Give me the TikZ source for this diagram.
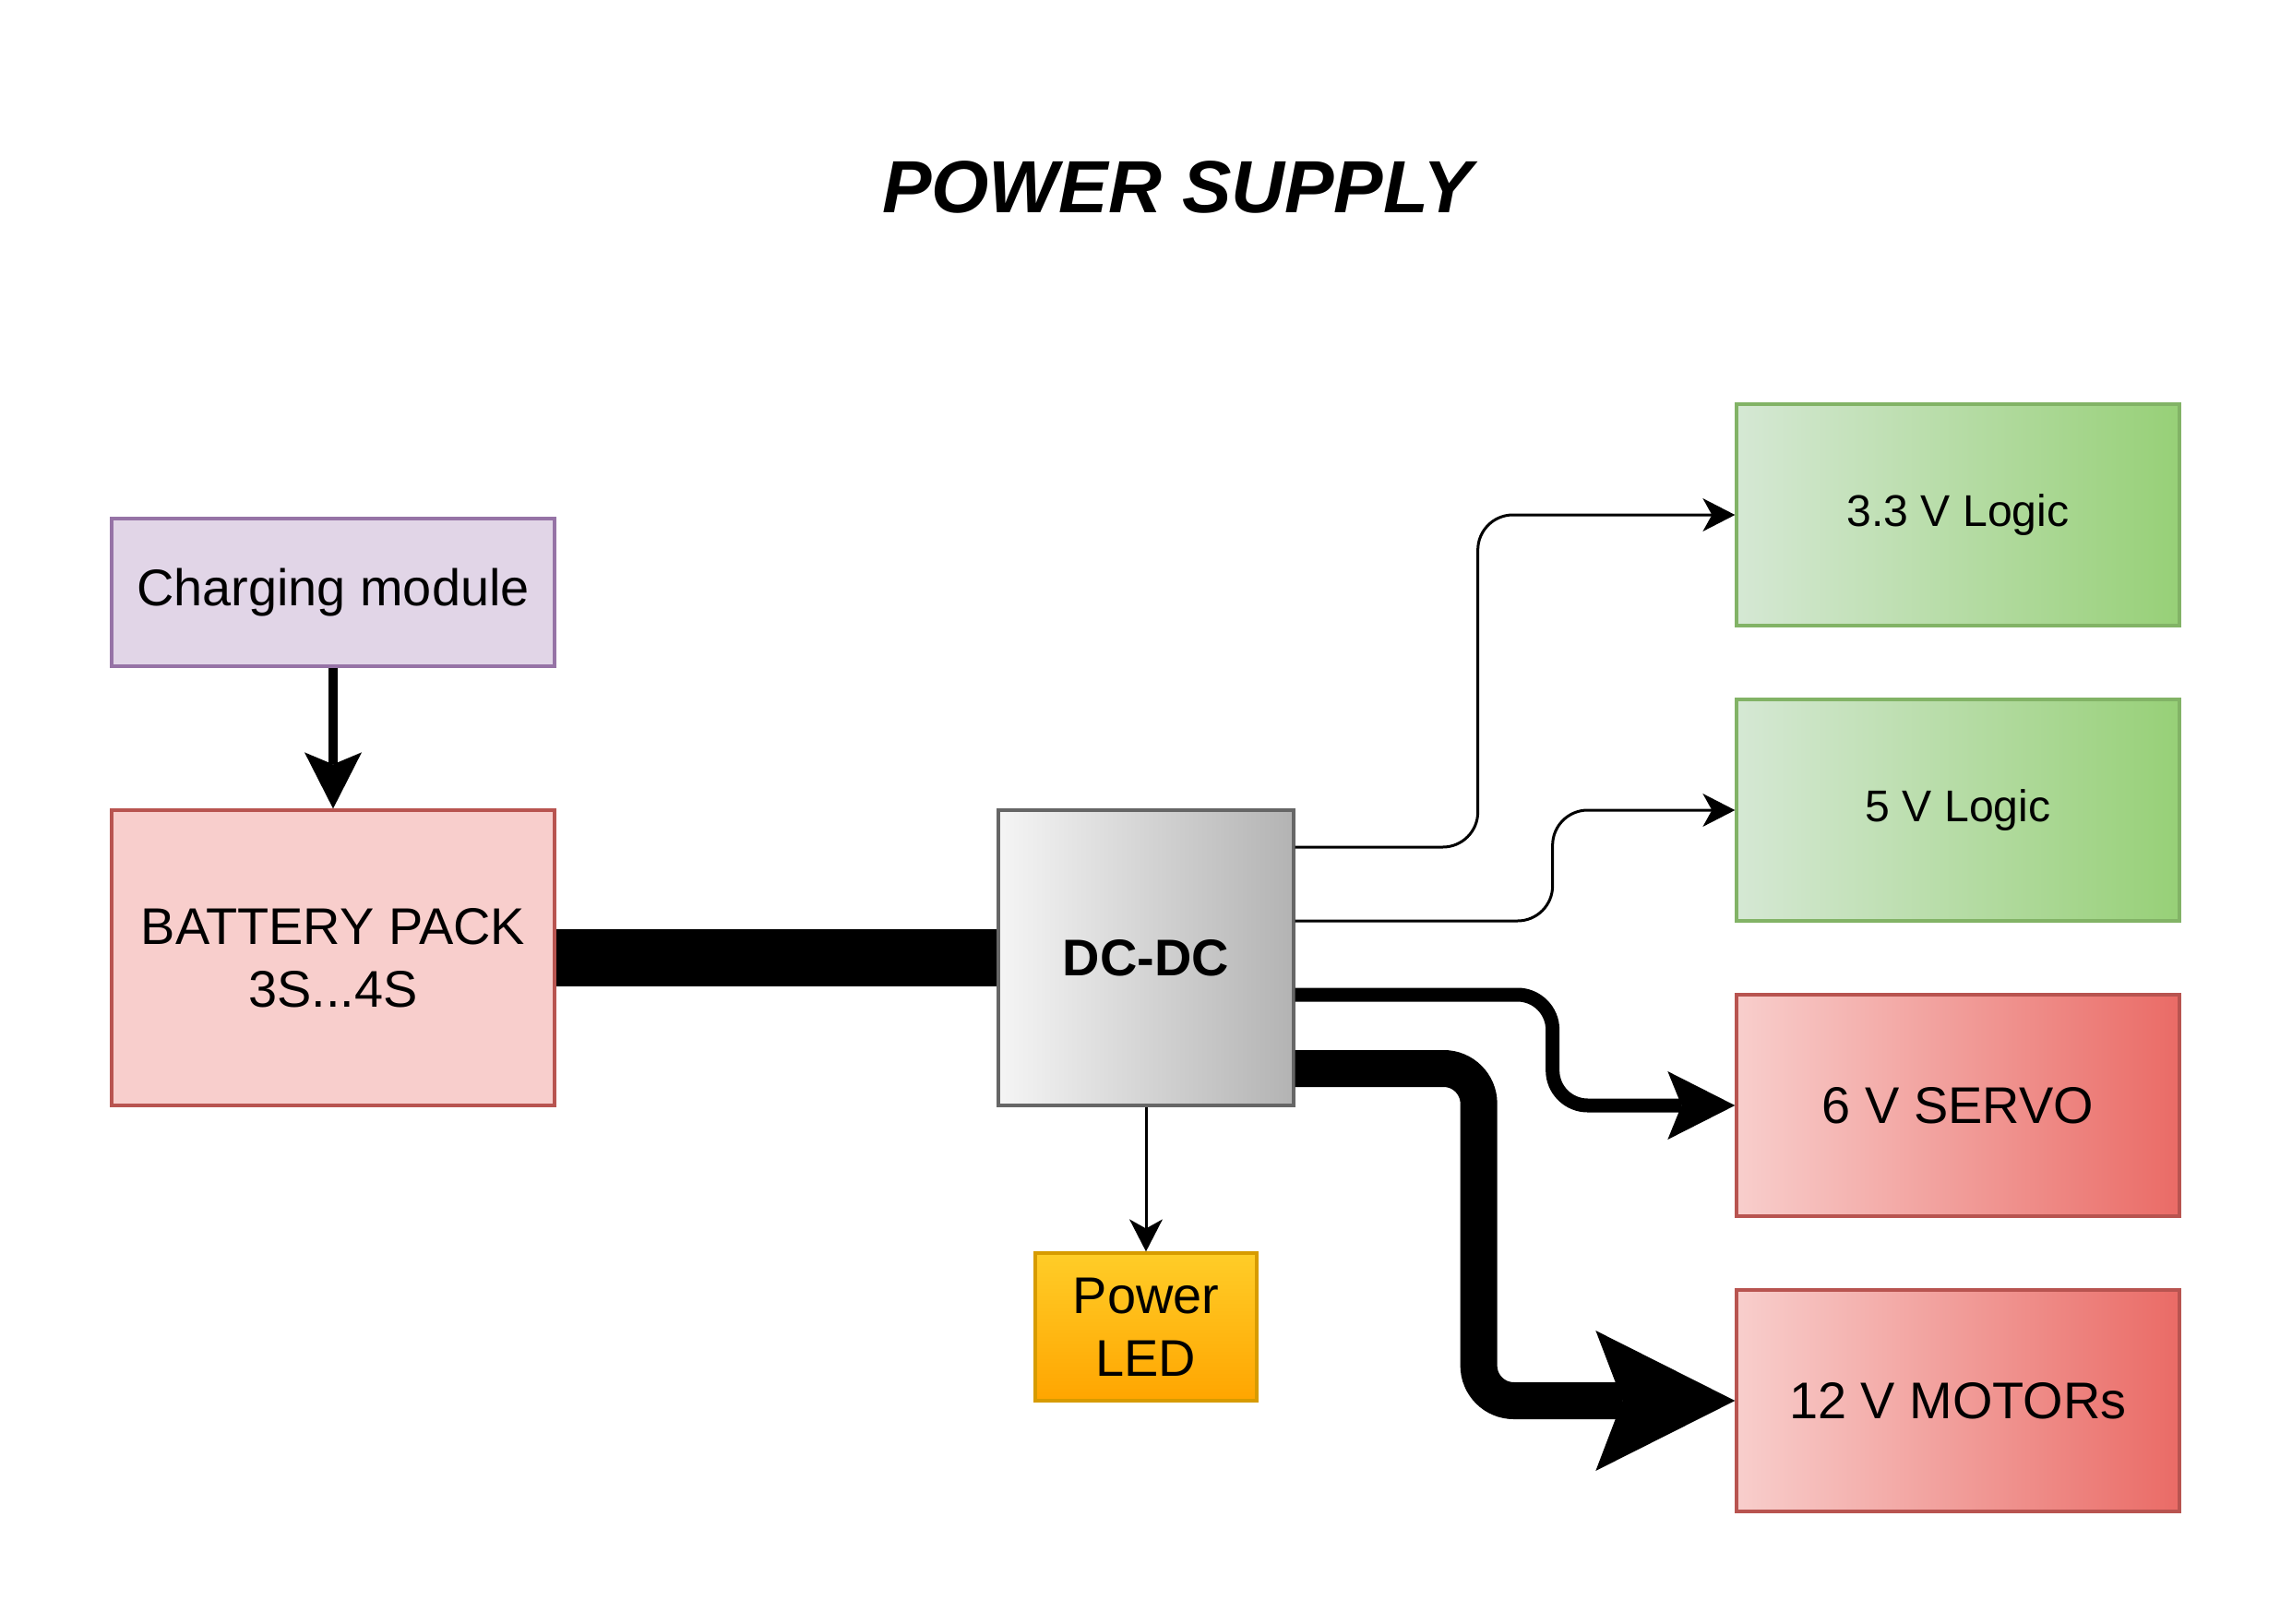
\documentclass[tikz,border=0pt]{standalone}
\usepackage{fontspec}
\setmainfont{Liberation Sans}
\usepackage{xcolor}
\usetikzlibrary{arrows.meta}
\usetikzlibrary{positioning}
\usetikzlibrary{calc}

\definecolor{chargeFill}{HTML}{E1D5E7}
\definecolor{chargeLine}{HTML}{9673A6}
\definecolor{redFill}{HTML}{F8CECC}
\definecolor{redDark}{HTML}{EA6B66}
\definecolor{redLine}{HTML}{B85450}
\definecolor{greenFill}{HTML}{D5E8D4}
\definecolor{greenDark}{HTML}{97D077}
\definecolor{greenLine}{HTML}{82B366}
\definecolor{greyFill}{HTML}{F5F5F5}
\definecolor{greyDark}{HTML}{B3B3B3}
\definecolor{greyLine}{HTML}{666666}
\definecolor{ledTop}{HTML}{FFCD28}
\definecolor{ledBottom}{HTML}{FFA500}
\definecolor{ledLine}{HTML}{D79B00}

\begin{document}
\begin{tikzpicture}[
		box/.style={draw, line width=0.033cm, align=center, inner sep=0pt},
		txt/.style={font=\fontsize{15.9pt}{19.3pt}\selectfont},
		logictxt/.style={font=\fontsize{13.7pt}{16.5pt}\selectfont},
		redbox/.style={box, txt, draw=redLine, left color=redFill, right color=redDark, minimum width=4.8cm, minimum height=2.4cm},
		greenbox/.style={box, logictxt, draw=greenLine, left color=greenFill, right color=greenDark, minimum width=4.8cm, minimum height=2.4cm},
		wire/.style={line width=0.03cm, rounded corners=0.38cm},
		thintip/.style={-{Stealth[length=0.35cm, width=0.36cm, inset=0.1cm, line width=0pt]}}
	]
				\useasboundingbox (0,0) rectangle (24.84,-17.6);
				
				% title
				\node (title) at (12.76,-2.025) {\fontsize{22.8pt}{27pt}\selectfont\bfseries\itshape POWER SUPPLY};
				
				% source side
				\node[box, txt, draw=chargeLine, fill=chargeFill, minimum width=4.8cm, minimum height=1.6cm] (charging) at (3.61,-6.42) {Charging module};
				\node[box, txt, draw=redLine, fill=redFill, minimum width=4.8cm, minimum height=3.2cm] (battery) at (3.61,-10.38) {BATTERY PACK\\3S...4S};
				\node[box, txt, draw=greyLine, left color=greyFill, right color=greyDark, minimum width=3.2cm, minimum height=3.2cm, font=\fontsize{15.9pt}{19.3pt}\selectfont\bfseries] (dcdc) at (12.42,-10.38) {DC-DC};
				\node[box, txt, draw=ledLine, top color=ledTop, bottom color=ledBottom, minimum width=2.4cm, minimum height=1.6cm] (led) at (12.42,-14.38) {Power\\LED};
				
				% loads
				\node[greenbox] (logicA) at (21.22,-5.58) {3.3 V Logic};
				\node[greenbox] (logicB) at (21.22,-8.78) {5 V Logic};
				\node[redbox] (servo) at (21.22,-11.98) {6 V SERVO};
				\node[redbox] (motors) at (21.22,-15.18) {12 V MOTORs};
				
				% connectors
				\draw[line width=0.107cm, -{Stealth[length=0.61cm, width=0.62cm, inset=0.13cm, line width=0pt]}] (charging) -- (battery);
				\draw[line width=0.62cm] (battery) -- (dcdc);
				\draw[wire, thintip] (dcdc) -- (led);
				\draw[wire, thintip] ([yshift=1.2cm]dcdc.east) -- ++(1.98,0) |- (logicA);
				\draw[wire, thintip] ([yshift=0.4cm]dcdc.east) -- ++(2.79,0) |- (logicB);
				\draw[wire, line width=0.15cm, -{Stealth[length=0.73cm, width=0.74cm, inset=0.15cm, line width=0pt]}] ([yshift=-0.4cm]dcdc.east) -- ++(2.79,0) |- (servo);
				\draw[wire, line width=0.4cm, -{Stealth[length=1.51cm, width=1.52cm, inset=0.29cm, line width=0pt]}] ([yshift=-1.2cm]dcdc.east) -- ++(1.99,0) |- (motors);
			\end{tikzpicture}
\end{document}
